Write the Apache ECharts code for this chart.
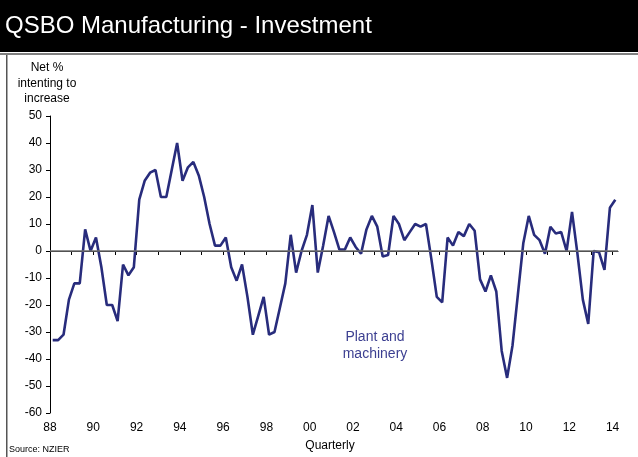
<!DOCTYPE html>
<html>
<head>
<meta charset="utf-8">
<script src="https://cdn.jsdelivr.net/npm/echarts@6/dist/echarts.min.js"></script>
<style>
  html, body { margin: 0; padding: 0; background: #fff; }
  #chart { width: 638px; height: 457px; }
</style>
</head>
<body>
<div id="chart"></div>
<script>
// QSBO manufacturing: net % of firms intending to increase investment in plant and machinery
const startYear = 1988;           // first observation: 1988 Q1
const plantMachinery = [
  -33, -33, -31, -18, -12, -12, 8, 0, 5, -6,
  -20, -20, -26, -5, -9, -6, 19, 26, 29, 30,
  20, 20, 30, 40, 26, 31, 33, 28, 20, 10,
  2, 2, 5, -6, -11, -5, -17, -31, -24, -17,
  -31, -30, -21, -12, 6, -8, 0, 6, 17, -8,
  2, 13, 7, 0.5, 0.5, 5, 1.5, -1, 8, 13,
  9, -2, -1.5, 13, 10, 4, 7, 10, 9, 10,
  -3, -17, -19, 5, 2, 7, 5.5, 10, 7.5, -10.5,
  -15, -9, -15, -37, -47, -35, -16, 3, 13, 6,
  4, -1, 9, 6.5, 7, 0, 14.5, -1, -18, -27,
  0, -0.5, -7, 16, 19
];
const yearTicks = [1988, 1989, 1990, 1991, 1992, 1993, 1994, 1995, 1996, 1997, 1998, 1999, 2000,
  2001, 2002, 2003, 2004, 2005, 2006, 2007, 2008, 2009, 2010, 2011, 2012, 2013, 2014];
const yearLabels = [1988, 1990, 1992, 1994, 1996, 1998, 2000, 2002, 2004, 2006, 2008, 2010, 2012, 2014];

// each quarter is plotted at its mid-point
const seriesData = plantMachinery.map((v, i) => [startYear + (i + 0.5) * 0.25, v]);

const font = '"Liberation Sans", Arial, sans-serif';
const chart = echarts.init(document.getElementById('chart'), null, { renderer: 'canvas' });

chart.setOption({
  animation: false,
  backgroundColor: '#fff',
  grid: { left: 50, right: 20, top: 116, bottom: 44 },
  graphic: [
    { type: 'rect', shape: { x: 0, y: 0, width: 638, height: 52 }, style: { fill: '#000' } },
    { type: 'rect', shape: { x: 0, y: 53, width: 638, height: 2 }, style: { fill: '#808080' } },
    { type: 'rect', shape: { x: 6, y: 55, width: 1.5, height: 402 }, style: { fill: '#555' } },
    { type: 'text', left: 5, top: 14,
      style: { text: 'QSBO Manufacturing - Investment', fill: '#fff', font: '24px ' + font } },
    { type: 'text', x: 47, y: 60,
      style: { text: 'Net %\nintenting to\nincrease', fill: '#000', font: '12px ' + font,
               align: 'center', lineHeight: 15.5 } },
    { type: 'text', x: 375, y: 329,
      style: { text: 'Plant and\nmachinery', fill: '#3c3f91', font: '14px ' + font,
               align: 'center', lineHeight: 17 } },
    { type: 'text', x: 9, y: 445,
      style: { text: 'Source: NZIER', fill: '#000', font: '9px ' + font } },
    { type: 'text', x: 330, y: 440,
      style: { text: 'Quarterly', fill: '#000', font: '12px ' + font, align: 'center' } }
  ],
  xAxis: {
    type: 'value',
    min: 1988,
    max: 2014.25,
    splitLine: { show: false },
    axisLine: { lineStyle: { color: '#000', width: 1 } },
    axisTick: { customValues: yearTicks, length: 4, lineStyle: { color: '#000' } },
    axisLabel: {
      customValues: yearLabels,
      formatter: v => String(v % 100).padStart(2, '0'),
      color: '#000', fontSize: 12, fontFamily: font, margin: 9
    }
  },
  yAxis: {
    type: 'value',
    min: -60,
    max: 50,
    interval: 10,
    splitLine: { show: false },
    axisLine: { show: true, lineStyle: { color: '#000', width: 1 } },
    axisTick: { show: true, length: 4, lineStyle: { color: '#000' } },
    axisLabel: { color: '#000', fontSize: 12, fontFamily: font, margin: 8 }
  },
  series: [{
    name: 'Plant and machinery',
    type: 'line',
    data: seriesData,
    showSymbol: false,
    lineStyle: { color: '#282c7c', width: 2.6 },
    markLine: {
      silent: true,
      symbol: 'none',
      label: { show: false },
      lineStyle: { color: '#6e6e6e', width: 1.5, type: 'solid' },
      data: [{ yAxis: 0 }]
    },
    z: 3
  }]
});
</script>
</body>
</html>
